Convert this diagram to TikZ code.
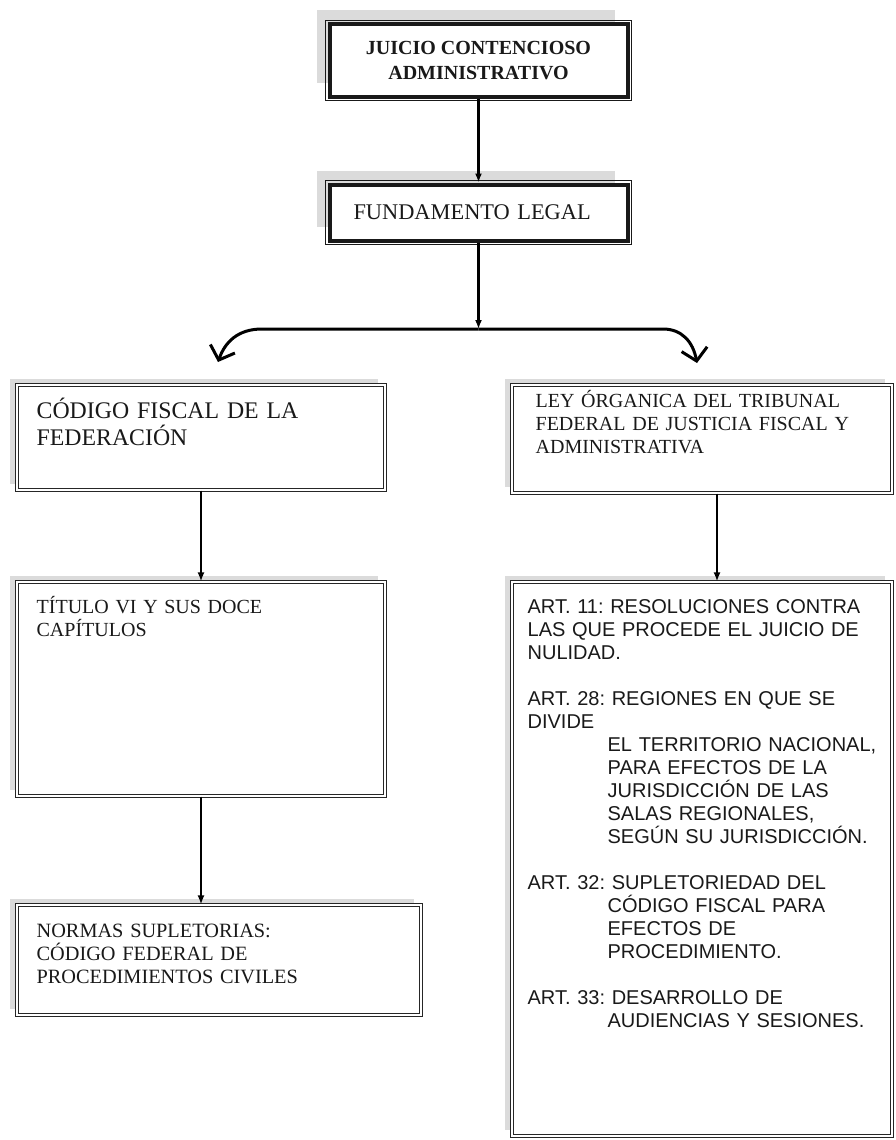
\documentclass[tikz,border=0pt]{standalone}
\usepackage{fontspec}
\setmainfont{Liberation Serif}
\setsansfont{Liberation Sans}
\usetikzlibrary{arrows.meta,shadows}
\frenchspacing

\begin{document}
\begin{tikzpicture}[x=1pt,y=-1pt,
    mainbox/.style={draw=black!90, line width=4pt, fill=white, minimum width=298pt,
        general shadow={fill=gray!28, shadow xshift=-13pt, shadow yshift=14pt}},
    subbox/.style={draw=black!85, double, line width=1.1pt, double distance=1.4pt, fill=white,
        general shadow={fill=gray!28, shadow xshift=-7pt, shadow yshift=6pt}},
    boxtext/.style={anchor=base west, inner sep=0pt, align=left, text width=#1, text=black!90},
    arr/.style={line width=2.3pt, -{Latex[length=9pt,width=7pt]}},
    branch/.style={line width=3pt, -{Straight Barb[length=12pt,width=26pt]}}]
  \useasboundingbox (0,0) rectangle (896,1140);

  \node[mainbox, minimum height=72pt, align=center, text=black!90,
        font=\fontsize{20}{25}\selectfont\bfseries] (juicio) at (478.5,60.5)
        {JUICIO CONTENCIOSO\\ADMINISTRATIVO};
  \node[mainbox, minimum height=56pt, text width=250pt, align=left, inner xsep=24pt, text=black!90,
        font=\fontsize{22.4}{25}\selectfont] (fundamento) at (478.5,212.5) {FUNDAMENTO LEGAL};
  \foreach \b in {juicio,fundamento}
    \draw[line width=1pt, black!90] ([shift={(-2.3,-2.3)}]\b.north west) rectangle ([shift={(2.3,2.3)}]\b.south east);

  \node[subbox, minimum width=368pt, minimum height=105pt] (codigo) at (201,437.5) {};
  \node[subbox, minimum width=380pt, minimum height=108pt] (ley) at (702,439) {};
  \node[subbox, minimum width=368pt, minimum height=214pt] (titulo) at (201,689) {};
  \node[subbox, minimum width=404pt, minimum height=110pt] (normas) at (219,960) {};
  \node[subbox, minimum width=380pt, minimum height=554pt] (art) at (702,859) {};

  \node[boxtext=340pt, font=\fontsize{23.8}{27}\selectfont] (codigo-t) at ([shift={(20,34)}]codigo.north west)
    {CÓDIGO FISCAL DE LA\\FEDERACIÓN};
  \node[boxtext=340pt, font=\fontsize{20}{23}\selectfont] (ley-t) at ([shift={(24,23)}]ley.north west)
    {LEY ÓRGANICA DEL TRIBUNAL\\FEDERAL DE JUSTICIA FISCAL Y\\ADMINISTRATIVA};
  \node[boxtext=330pt, font=\fontsize{20}{23}\selectfont] (titulo-t) at ([shift={(20,32)}]titulo.north west)
    {TÍTULO VI Y SUS DOCE\\CAPÍTULOS};
  \node[boxtext=360pt, font=\fontsize{20.3}{23}\selectfont] (normas-t) at ([shift={(20,33)}]normas.north west)
    {NORMAS SUPLETORIAS:\\CÓDIGO FEDERAL DE\\PROCEDIMIENTOS CIVILES};
  \node[boxtext=370pt, font=\sffamily\fontsize{20}{23}\selectfont] (art-t) at ([shift={(16,32)}]art.north west)
    {ART. 11: RESOLUCIONES CONTRA\\LAS QUE PROCEDE EL JUICIO DE\\NULIDAD.\\[23pt]
     ART. 28: REGIONES EN QUE SE\\DIVIDE\\
     \hspace*{80pt}EL TERRITORIO NACIONAL,\\\hspace*{80pt}PARA EFECTOS DE LA\\
     \hspace*{80pt}JURISDICCIÓN DE LAS\\\hspace*{80pt}SALAS REGIONALES,\\
     \hspace*{80pt}SEGÚN SU JURISDICCIÓN.\\[23pt]
     ART. 32: SUPLETORIEDAD DEL\\\hspace*{80pt}CÓDIGO FISCAL PARA\\
     \hspace*{80pt}EFECTOS DE\\\hspace*{80pt}PROCEDIMIENTO.\\[23pt]
     ART. 33: DESARROLLO DE\\\hspace*{80pt}AUDIENCIAS Y SESIONES.};

  \coordinate (split) at (478.5,329);
  \coordinate (lbend) at (262,329);
  \coordinate (ltip) at (218,362);
  \coordinate (rbend) at (663,329);
  \coordinate (rtip) at (697,363);

  \draw[arr] (juicio) -- (fundamento);
  \draw[arr] (fundamento) -- (split);
  \draw[branch] (split) -- (lbend) .. controls (238,329) and (225,342) .. (ltip);
  \draw[branch] (split) -- (rbend) .. controls (682,329) and (693,342) .. (rtip);
  \draw[arr] (codigo) -- (titulo);
  \draw[arr] (titulo.south) -- (titulo.south |- normas.north);
  \draw[arr] ([xshift=15pt]ley.south) -- ([xshift=15pt]ley.south |- art.north);
\end{tikzpicture}
\end{document}
